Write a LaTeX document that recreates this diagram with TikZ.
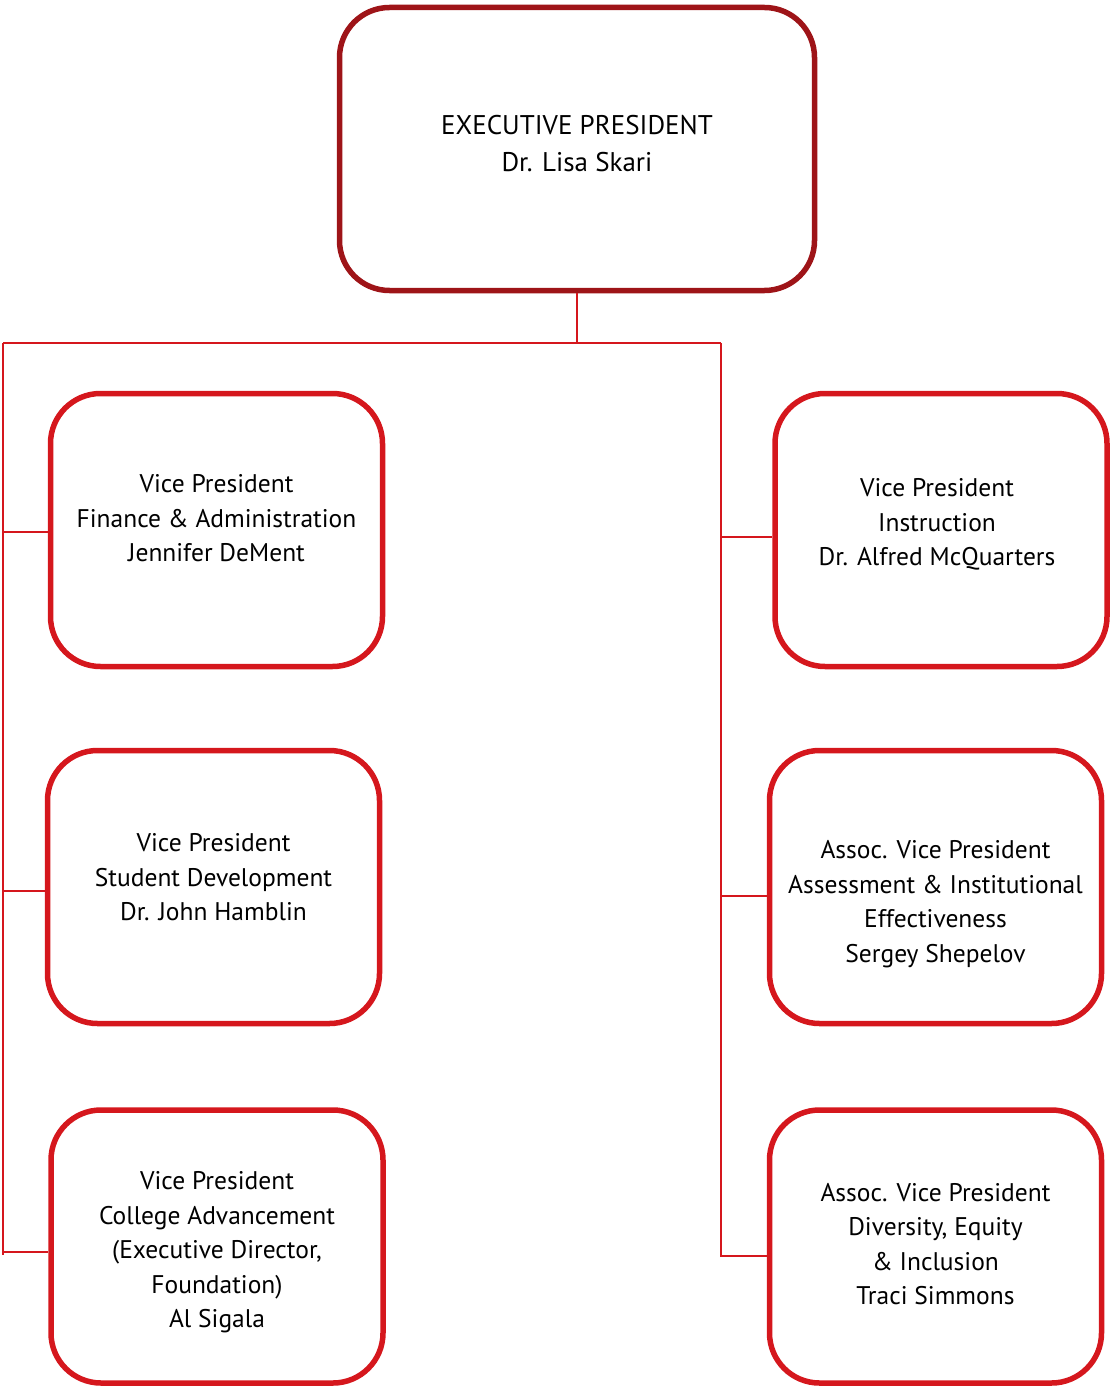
\documentclass[tikz,border=0pt]{standalone}
\usepackage{fontspec}
\setmainfont{PT Sans}
\usetikzlibrary{positioning}
\definecolor{darkred}{HTML}{9E1418}
\definecolor{chartred}{HTML}{D5171D}

\begin{document}
\begin{tikzpicture}[
        x=1pt,y=-1pt,
        cap = round,
        vpbox/.style = {
            draw=chartred,line width=5.5pt,rounded corners=50pt,
            inner sep=0pt,
            minimum width=332pt,minimum height=273pt},
        topbox/.style = {vpbox,draw=darkred,
            minimum width=475pt,minimum height=283pt},
        txt/.style = {inner sep=0pt,align=center,
            font=\fontsize{25.5}{34.5}\selectfont},
        wire/.style = {draw=chartred,line width=2.8pt,line cap=butt},
]
        \useasboundingbox (0,0) rectangle (1112,1388);
        \node[topbox] (exec) at (577,149) {};
        \node[vpbox] (fin)  at (216.5,530) {};
        \node[vpbox] (stud) at (213.5,887) {};
        \node[vpbox] (adv)  at (217,1246.5) {};
        \node[vpbox] (inst) at (941,530) {};
        \node[vpbox] (assess) at (935.5,887) {};
        \node[vpbox] (dei)  at (935.5,1246.5) {};
        % texts
        \node[txt,font=\fontsize{27}{37}\selectfont] (execT) at ([yshift=5.5pt]exec.center) {EXECUTIVE PRESIDENT\\Dr. Lisa Skari};
        \node[txt] (finT) at ([yshift=11.5pt]fin.center) {Vice President\\Finance \& Administration\\Jennifer DeMent};
        \node[txt] (studT) at ([yshift=9.5pt]stud.center) {Vice President\\Student Development\\Dr. John Hamblin};
        \node[txt] (advT) at ([yshift=-6pt]adv.center) {Vice President\\College Advancement\\(Executive Director,\\Foundation)\\Al Sigala};
        \node[txt] (instT) at ([xshift=-4pt,yshift=5.5pt]inst.center) {Vice President\\Instruction\\Dr. Alfred McQuarters};
        \node[txt] (assessT) at ([yshift=-17pt]assess.center) {Assoc. Vice President\\Assessment \& Institutional\\Effectiveness\\Sergey Shepelov};
        \node[txt] (deiT) at ([yshift=2.5pt]dei.center) {Assoc. Vice President\\Diversity, Equity\\\& Inclusion\\Traci Simmons};
        % spine
        \coordinate (hub) at (577,343);
        \coordinate (ltop) at (3,343);
        \coordinate (rtop) at (721,343);
        \coordinate (lbot) at (3,1255);
        \coordinate (rbot) at (721,1257);
        \draw [wire] (exec.south) -- (hub);
        \draw [wire] (ltop) -- (rtop);
        \draw [wire] (ltop) -- (lbot);
        \draw [wire] (rtop) -- (rbot);
        % branches
        \draw [wire] (ltop |- 0,532) -- (fin.west |- 0,532);
        \draw [wire] (ltop |- 0,891) -- (stud.west |- 0,891);
        \draw [wire] (ltop |- 0,1252) -- (adv.west |- 0,1252);
        \draw [wire] (rtop |- 0,537) -- (inst.west |- 0,537);
        \draw [wire] (rtop |- 0,896) -- (assess.west |- 0,896);
        \draw [wire] (rtop |- 0,1256) -- (dei.west |- 0,1256);
\end{tikzpicture}
\end{document}
